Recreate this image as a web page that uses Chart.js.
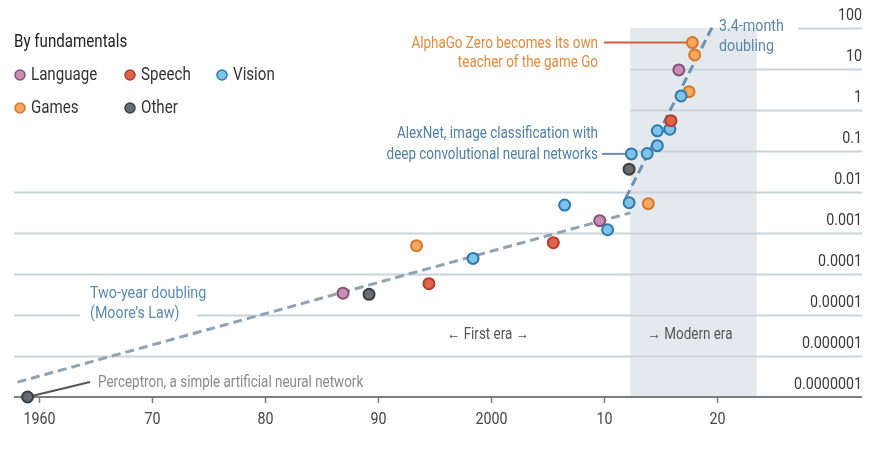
<!DOCTYPE html>
<html lang="en">
<head>
  <meta charset="utf-8">
  <title>AI compute by fundamentals</title>
  <script src="https://cdn.jsdelivr.net/npm/chart.js@4.4.0/dist/chart.umd.min.js"></script>
  <style>
    body { margin: 0; background: #fff; }
    #wrap { width: 872px; height: 450px; position: relative; }
  </style>
</head>
<body>
<div id="wrap"><canvas id="myChart"></canvas></div>
<script>
// data (x = year, y = petaflop/s-days, log scale)
var categories = ["Language", "Speech", "Vision", "Games", "Other"];

var languageYears = [1986.9, 2009.6, 2016.6];
var languageVals  = [3.4e-5, 2.0e-3, 9.5];

var speechYears = [1994.5, 2005.5, 2015.9];
var speechVals  = [5.8e-5, 5.8e-4, 0.55];

var visionYears = [1998.4, 2006.5, 2010.3, 2012.2, 2012.4, 2013.8, 2014.7, 2014.7, 2015.8, 2016.8];
var visionVals  = [2.4e-4, 4.8e-3, 1.2e-3, 5.5e-3, 0.085, 0.087, 0.135, 0.31, 0.34, 2.2];

var gamesYears = [1993.4, 2013.9, 2017.5, 2017.8, 2018.0];
var gamesVals  = [4.9e-4, 5.2e-3, 2.8, 44, 22];

var otherYears = [1959.0, 1989.2, 2012.2];
var otherVals  = [1e-7, 3.2e-5, 0.036];

// trend lines
var twoYearX = [1958.1, 2012.3];
var twoYearY = [2.3e-7, 3.1e-3];
var fastX = [2011.9, 2019.7];
var fastY = [7.1e-3, 126];

var modernEra = [2012.3, 2023.5];

var xTicks = [1960, 1970, 1980, 1990, 2000, 2010, 2020];
var xTickLabels = ["1960", "70", "80", "90", "2000", "10", "20"];
var yTicks = [100, 10, 1, 0.1, 0.01, 0.001, 0.0001, 0.00001, 0.000001, 0.0000001];
var yTickLabels = ["100", "10", "1", "0.1", "0.01", "0.001", "0.0001", "0.00001", "0.000001", "0.0000001"];

var fills   = ["#c98fb3", "#e0644c", "#7dc4e8", "#f6a85e", "#676c70"];
var borders = ["#86527a", "#b03d2c", "#2f78ae", "#d4792c", "#3a3f43"];

function pts(xs, ys) {
  return xs.map(function(v, i) { return {x: v, y: ys[i]}; });
}

var FONT = 'Roboto, "Noto Sans", sans-serif';
var SQUEEZE = 0.84; // condensed look of the original typeface

var series = [
  pts(languageYears, languageVals),
  pts(speechYears, speechVals),
  pts(visionYears, visionVals),
  pts(gamesYears, gamesVals),
  pts(otherYears, otherVals)
];

var datasets = [
  {
    type: "line", label: "Two-year doubling", data: pts(twoYearX, twoYearY),
    borderColor: "#8fa3b4", borderWidth: 3, borderDash: [9, 5], pointRadius: 0,
    clip: false, order: 10
  },
  {
    type: "line", label: "3.4-month doubling", data: pts(fastX, fastY),
    borderColor: "#6b93b3", borderWidth: 3, borderDash: [9, 5], pointRadius: 0,
    clip: false, order: 10
  }
];
categories.forEach(function(c, i) {
  datasets.push({
    type: "scatter", label: c, data: series[i],
    backgroundColor: fills[i], borderColor: borders[i], borderWidth: 2,
    pointRadius: 5.5, clip: false, order: 1
  });
});

function txt(ctx, s, x, y, color, align, size) {
  ctx.save();
  ctx.font = (size || 16) + "px " + FONT;
  ctx.fillStyle = color;
  ctx.textAlign = align || "left";
  ctx.textBaseline = "middle";
  ctx.translate(x, y);
  ctx.scale(SQUEEZE, 1);
  ctx.fillText(s, 0, 0);
  ctx.restore();
}

var deco = {
  id: "deco",
  beforeDatasetsDraw: function(chart) {
    var ctx = chart.ctx, x = chart.scales.x, y = chart.scales.y, a = chart.chartArea;
    ctx.save();
    // modern era shading
    var s0 = x.getPixelForValue(modernEra[0]), s1 = x.getPixelForValue(modernEra[1]);
    var top = y.getPixelForValue(100), bot = y.getPixelForValue(1e-7);
    ctx.fillStyle = "#e4e9ed";
    ctx.fillRect(s0, top, s1 - s0, bot - top);

    // gridlines
    ctx.strokeStyle = "#c9d3db";
    ctx.lineWidth = 2;
    yTicks.forEach(function(v) {
      var py = Math.round(y.getPixelForValue(v)) + 0.5;
      var segs;
      if (v === 1e-7) return;
      if (v === 100) segs = [[798, a.right]];
      else if (v >= 0.1) segs = [[s0, a.right]];
      else if (v === 1e-5) segs = [[a.left, 80], [197, a.right]];
      else segs = [[a.left, a.right]];
      segs.forEach(function(sg) {
        ctx.beginPath(); ctx.moveTo(sg[0], py); ctx.lineTo(sg[1], py); ctx.stroke();
      });
    });
    // axis line
    ctx.strokeStyle = "#7a7f83";
    ctx.beginPath(); ctx.moveTo(a.left, bot); ctx.lineTo(a.right, bot); ctx.stroke();
    // x ticks
    ctx.lineWidth = 1.5;
    xTicks.forEach(function(t, i) {
      var px = Math.round(x.getPixelForValue(t)) + 0.5;
      ctx.beginPath(); ctx.moveTo(px, bot); ctx.lineTo(px, bot + 6); ctx.stroke();
      txt(ctx, xTickLabels[i], px, bot + 23, "#444", "center", 17);
    });
    // y labels
    yTicks.forEach(function(v, i) {
      txt(ctx, yTickLabels[i], a.right, y.getPixelForValue(v) - 12, "#3a3a3a", "right", 17);
    });

    // annotation leader lines
    ctx.lineWidth = 2;
    var ag = {x: x.getPixelForValue(gamesYears[3]), y: y.getPixelForValue(gamesVals[3])};
    ctx.strokeStyle = "#d95c42";
    ctx.beginPath(); ctx.moveTo(604, ag.y); ctx.lineTo(ag.x, ag.y); ctx.stroke();
    var an = {x: x.getPixelForValue(visionYears[4]), y: y.getPixelForValue(visionVals[4])};
    ctx.strokeStyle = "#6d8ea8";
    ctx.beginPath(); ctx.moveTo(602, an.y); ctx.lineTo(an.x, an.y); ctx.stroke();
    var pc = {x: x.getPixelForValue(otherYears[0]), y: y.getPixelForValue(otherVals[0])};
    ctx.strokeStyle = "#555";
    ctx.beginPath(); ctx.moveTo(pc.x, pc.y); ctx.lineTo(90, 382); ctx.stroke();
    ctx.restore();
  },
  afterDatasetsDraw: function(chart) {
    var ctx = chart.ctx;
    ctx.save();
    // legend
    txt(ctx, "By fundamentals", 14, 42, "#222", "left", 18);
    var pos = [[20, 75], [130, 75], [222, 75], [20, 108], [130, 108]];
    categories.forEach(function(c, i) {
      ctx.beginPath();
      ctx.arc(pos[i][0], pos[i][1], 5, 0, Math.PI * 2);
      ctx.fillStyle = fills[i]; ctx.fill();
      ctx.lineWidth = 1.5; ctx.strokeStyle = borders[i]; ctx.stroke();
      txt(ctx, c, pos[i][0] + 11, pos[i][1], "#333", "left", 18);
    });
    // annotations
    txt(ctx, "AlphaGo Zero becomes its own", 598, 44, "#e8893a", "right", 16);
    txt(ctx, "teacher of the game Go", 598, 63, "#e8893a", "right", 16);
    txt(ctx, "AlexNet, image classification with", 598, 134, "#4f80a8", "right", 16);
    txt(ctx, "deep convolutional neural networks", 598, 155, "#4f80a8", "right", 16);
    txt(ctx, "3.4-month", 719, 27, "#5a87aa", "left", 17);
    txt(ctx, "doubling", 719, 47, "#5a87aa", "left", 17);
    txt(ctx, "Two-year doubling", 90, 294, "#5b8bb2", "left", 17);
    txt(ctx, "(Moore\u2019s Law)", 90, 314, "#5b8bb2", "left", 17);
    txt(ctx, "\u2190 First era \u2192", 488, 335, "#555", "center", 16);
    txt(ctx, "\u2192 Modern era", 690, 335, "#555", "center", 16);
    txt(ctx, "Perceptron, a simple artificial neural network", 98, 383, "#8a8a8a", "left", 16);
    ctx.restore();
  }
};

new Chart("myChart", {
  data: { datasets: datasets },
  options: {
    responsive: true,
    maintainAspectRatio: false,
    animation: false,
    layout: { padding: { left: 14, right: 10, top: 28, bottom: 53 } },
    scales: {
      x: { type: "linear", min: 1957.8, max: 2032.8, display: false },
      y: { type: "logarithmic", min: 1e-7, max: 100, display: false }
    },
    plugins: { legend: { display: false }, tooltip: { enabled: false } }
  },
  plugins: [deco]
});
</script>
</body>
</html>
